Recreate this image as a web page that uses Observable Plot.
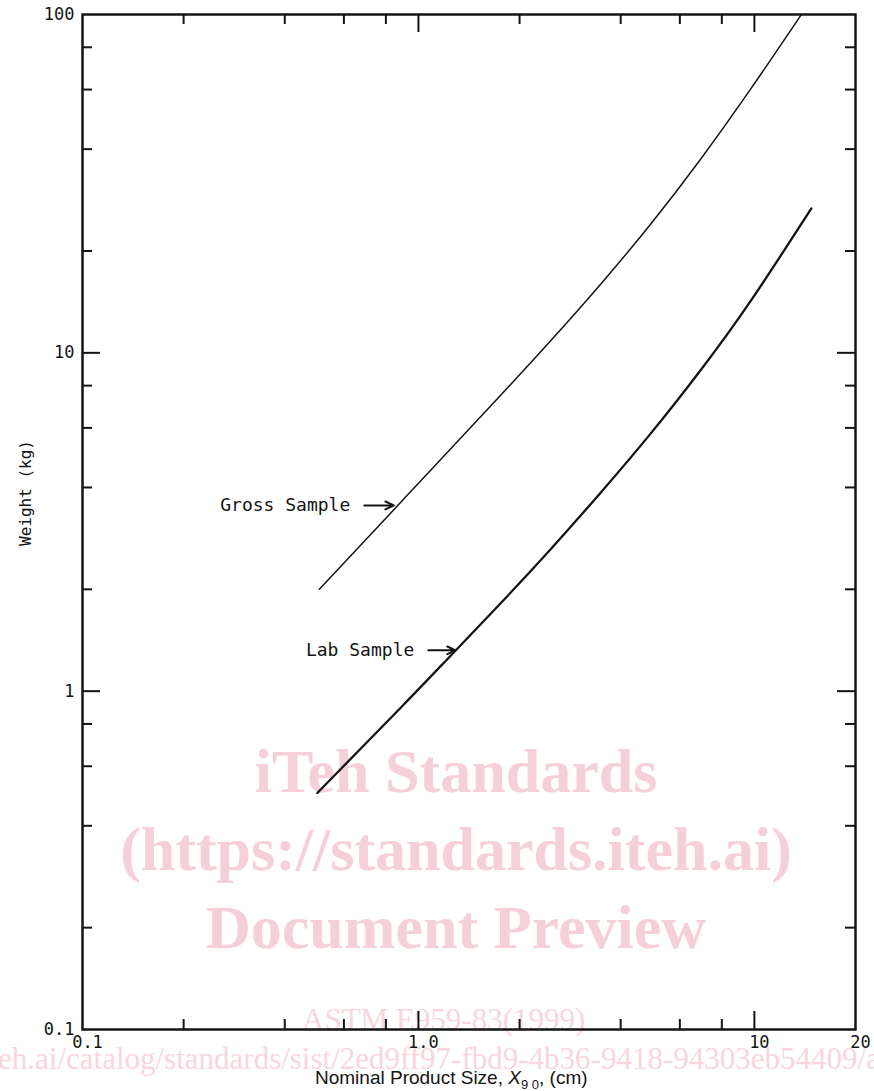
<!DOCTYPE html>
<html><head><meta charset="utf-8">
<script src="https://cdn.jsdelivr.net/npm/d3@7"></script>
<script src="https://cdn.jsdelivr.net/npm/@observablehq/plot@0.6"></script>
<style>html,body{margin:0;padding:0;background:#fff;} #chart{width:874px;height:1091px;overflow:hidden}</style>
</head><body><div id="chart"></div>
<script>
// Data
const grossX = [0.507, 0.771, 1.163, 1.754, 2.471, 3.481, 4.903, 6.908, 9.730, 13.80];
const grossY = [2.00, 3.12, 4.83, 7.48, 10.84, 15.93, 23.96, 37.29, 60.05, 100];
const labX = [0.50, 0.884, 1.245, 1.754, 2.471, 3.481, 4.903, 6.908, 9.730, 14.78];
const labY = [0.50, 0.892, 1.271, 1.816, 2.624, 3.854, 5.760, 8.87, 14.19, 26.72];

const xTicksMinor = [0.2, 0.4, 0.6, 0.8, 2, 4, 6, 8];
const xTicksMajor = [1, 10];
const yTicksMinor = [0.2, 0.4, 0.6, 0.8, 2, 4, 6, 8, 20, 40, 60, 80];
const yTicksMajor = [1, 10];
const xTickValues = [0.1, 1, 10, 20];
const xTickLabels = ["0.1", "1.0", "10", "20"];
const yTickValues = [0.1, 1, 10, 100];
const yTickLabels = ["0.1", "1", "10", "100"];

const annoText = ["Gross Sample", "Lab Sample"];
const annoX1 = [0.69, 1.07];
const annoX2 = [0.845, 1.29];
const annoY = [3.54, 1.32];

const W = 874, H = 1091, mL = 82, mR = 19, mT = 14, mB = 62;
const fw = W - mL - mR, fh = H - mT - mB;
const gross = grossX.map((x, i) => ({x, y: grossY[i]}));
const lab = labX.map((x, i) => ({x, y: labY[i]}));
const xLab = xTickValues.map((v, i) => ({v, t: xTickLabels[i]}));
const yLab = yTickValues.map((v, i) => ({v, t: yTickLabels[i]}));
const anno = annoText.map((t, i) => ({t, x1: annoX1[i], x2: annoX2[i], y: annoY[i]}));

const mono = "'DejaVu Sans Mono', monospace";
const ink = "#141414";
const minorLen = 10, majorLen = 18;

const plot = Plot.plot({
  width: W, height: H,
  marginLeft: mL, marginRight: mR, marginTop: mT, marginBottom: mB,
  x: {type: "log", domain: [0.1, 20], axis: null},
  y: {type: "log", domain: [0.1, 100], axis: null},
  style: {fontFamily: mono, fontSize: "17px", color: ink, background: "#fff"},
  marks: [
    Plot.tickX(xTicksMinor, {x: d => d, insetTop: fh - minorLen, stroke: ink, strokeWidth: 2}),
    Plot.tickX(xTicksMajor, {x: d => d, insetTop: fh - majorLen, stroke: ink, strokeWidth: 2}),
    Plot.tickX(xTicksMinor, {x: d => d, insetBottom: fh - minorLen, stroke: ink, strokeWidth: 2}),
    Plot.tickX(xTicksMajor, {x: d => d, insetBottom: fh - majorLen, stroke: ink, strokeWidth: 2}),
    Plot.tickY(yTicksMinor, {y: d => d, insetRight: fw - minorLen, stroke: ink, strokeWidth: 2}),
    Plot.tickY(yTicksMajor, {y: d => d, insetRight: fw - majorLen, stroke: ink, strokeWidth: 2}),
    Plot.tickY(yTicksMinor, {y: d => d, insetLeft: fw - minorLen, stroke: ink, strokeWidth: 2}),
    Plot.tickY(yTicksMajor, {y: d => d, insetLeft: fw - majorLen, stroke: ink, strokeWidth: 2}),
    Plot.frame({stroke: ink, strokeWidth: 2.5}),
    Plot.text(xLab, {x: "v", text: "t", frameAnchor: "bottom", dy: 18, dx: 5, fill: ink, fontSize: 17}),
    Plot.text(yLab, {y: "v", text: "t", frameAnchor: "left", textAnchor: "end", dx: -8, fill: ink, fontSize: 17}),
    Plot.line(gross, {x: "x", y: "y", curve: "natural", stroke: ink, strokeWidth: 1.5}),
    Plot.line(lab, {x: "x", y: "y", curve: "natural", stroke: ink, strokeWidth: 2.3}),
    Plot.arrow(anno, {x1: "x1", x2: "x2", y1: "y", y2: "y", stroke: ink, strokeWidth: 2, headLength: 7, headAngle: 50}),
    Plot.text(anno, {x: "x1", y: "y", text: "t", textAnchor: "end", dx: -14, fill: ink, fontSize: 18})
  ]
});

document.getElementById("chart").appendChild(plot);
const svg = d3.select(plot);

// watermark (behind everything)
const wm = svg.insert("g", ":first-child").attr("font-family", "'Liberation Serif', 'Times New Roman', serif");
const big = [["iTeh Standards", 792], ["(https://standards.iteh.ai)", 870], ["Document Preview", 948]];
big.forEach(([t, y]) => wm.append("text").attr("x", 456).attr("y", y).attr("text-anchor", "middle")
  .attr("font-size", 62).attr("font-weight", "bold").attr("fill", "#f6d0d8").text(t));
wm.append("text").attr("x", 302).attr("y", 1030).attr("text-anchor", "start").attr("font-size", 31)
  .attr("fill", "#f8d6de").text("ASTM E959-83(1999)");
wm.append("text").attr("x", -2).attr("y", 1069).attr("text-anchor", "start").attr("font-size", 31)
  .attr("fill", "#f8d6de")
  .text("eh.ai/catalog/standards/sist/2ed9ff97-fbd9-4b36-9418-94303eb54409/astm-e959-831999");
svg.insert("rect", ":first-child").attr("width", W).attr("height", H).attr("fill", "#fff");

// y axis title
svg.append("text").attr("transform", "translate(25,493) rotate(-90)").attr("text-anchor", "middle")
  .attr("dominant-baseline", "central").attr("font-family", mono).attr("font-size", 16).attr("fill", ink)
  .text("Weight (kg)");

// x axis title
const xt = svg.append("text").attr("x", 315).attr("y", 1084).attr("text-anchor", "start")
  .attr("font-family", "'Liberation Sans', Arial, sans-serif").attr("font-size", 19).attr("fill", ink);
xt.append("tspan").text("Nominal Product Size, ");
xt.append("tspan").attr("font-style", "italic").text("X");
xt.append("tspan").attr("font-size", 13).attr("dy", 5).text("9 0");
xt.append("tspan").attr("dy", -5).text(", (cm)");
</script>
</body></html>
